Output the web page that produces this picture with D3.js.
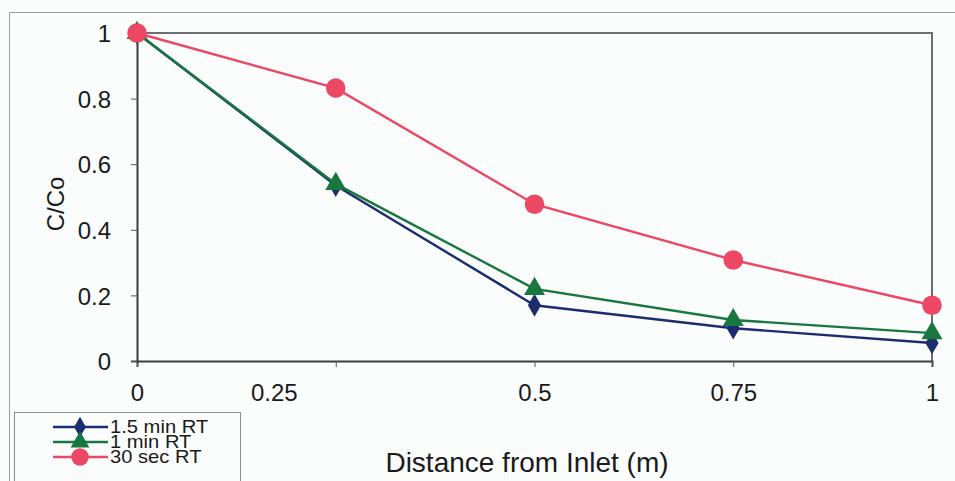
<!DOCTYPE html>
<html><head><meta charset="utf-8">
<script src="https://cdn.jsdelivr.net/npm/d3@7"></script>
<style>body{margin:0;background:#fbfdfd}svg{display:block}text{font-family:Arial,"Liberation Sans",sans-serif;fill:#1a1a1a}</style>
</head><body><svg id="c" width="955" height="481"></svg>
<script>
const distances = [0, 0.25, 0.5, 0.75, 1];
const xTickLabels = ["0", "0.25", "0.5", "0.75", "1"];
const xLabelShift = [0, -62, 0, 0, 0];
const yTicks = [0, 0.2, 0.4, 0.6, 0.8, 1];
const seriesNames = ["1.5 min RT", "1 min RT", "30 sec RT"];
const rt15 = [1, 0.535, 0.17, 0.10, 0.055];
const rt1 = [1, 0.54, 0.22, 0.125, 0.085];
const rt30 = [1, 0.832, 0.478, 0.308, 0.17];
const colors = ["#1c2c6e", "#18773f", "#ec4863"];
const shapes = [d3.symbolDiamond, d3.symbolTriangle, d3.symbolCircle];

const svg = d3.select("#c");
svg.append("rect").attr("width",955).attr("height",481).attr("fill","#fbfdfd");
svg.append("path").attr("d","M9.5,481V12.5H955").attr("fill","none").attr("stroke","#9a9e9e").attr("stroke-width",1);

const x = d3.scaleLinear().domain([0,1]).range([137,932]);
const y = d3.scaleLinear().domain([0,1]).range([361,33]);

svg.append("path").attr("d",`M${x(0)},${y(1)}H${x(1)}V${y(0)}`).attr("fill","none").attr("stroke","#6b6f72").attr("stroke-width",2);

const xAxis = svg.append("g").attr("transform",`translate(0,${y(0)})`)
  .call(d3.axisBottom(x).tickValues(distances).tickFormat((d,i)=>xTickLabels[i]).tickSize(6).tickPadding(17));
const yAxis = svg.append("g").attr("transform",`translate(${x(0)},0)`)
  .call(d3.axisLeft(y).tickValues(yTicks).tickFormat(d=>d3.format("")(d)).tickSize(6).tickPadding(20));
[xAxis,yAxis].forEach(g=>{
  g.select(".domain").attr("stroke","#3a3d40").attr("stroke-width",2);
  g.selectAll(".tick line").attr("stroke","#555");
  g.selectAll("text").attr("font-size",24).attr("fill","#1a1a1a").attr("font-family","Arial, Liberation Sans, sans-serif");
});
xAxis.selectAll("text").attr("dx",(d,i)=>xLabelShift[i]);
yAxis.selectAll("text").attr("dy","0.36em");

const data = [rt15, rt1, rt30];
const line = d3.line().x((d,i)=>x(distances[i])).y(d=>y(d));
const sizes = [150, 190, 300];
data.forEach((s,k)=>{
  svg.append("path").datum(s).attr("d",line).attr("fill","none").attr("stroke",colors[k]).attr("stroke-width",2.4);
});
data.forEach((s,k)=>{
  svg.append("g").selectAll("path").data(s).join("path")
    .attr("transform",(d,i)=>`translate(${x(distances[i])},${y(d)})`)
    .attr("d",d3.symbol().type(shapes[k]).size(sizes[k]))
    .attr("fill",colors[k]);
});

svg.append("text").attr("transform","translate(64,204) rotate(-90)").attr("text-anchor","middle")
  .attr("font-size",24).text("C/Co");
svg.append("text").attr("x",527).attr("y",472).attr("text-anchor","middle").attr("font-size",28).text("Distance from Inlet (m)");

const lg = svg.append("g");
lg.append("rect").attr("x",14.5).attr("y",412.5).attr("width",226).attr("height",80).attr("fill","#fbfdfd").attr("stroke","#8a8e8e");
seriesNames.forEach((n,k)=>{
  const yy = 427 + k*15;
  lg.append("line").attr("x1",53).attr("x2",108).attr("y1",yy).attr("y2",yy).attr("stroke",colors[k]).attr("stroke-width",2.4);
  lg.append("path").attr("transform",`translate(80,${yy})`).attr("d",d3.symbol().type(shapes[k]).size(sizes[k]*0.8)).attr("fill",colors[k]);
  lg.append("text").attr("transform",`translate(110,${yy}) scale(1.12,1)`).attr("dy","0.36em").attr("font-size",18).text(n);
});
</script></body></html>
